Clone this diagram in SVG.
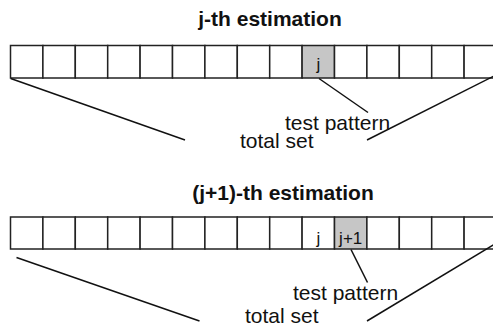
<svg xmlns="http://www.w3.org/2000/svg" width="493" height="330" viewBox="0 0 493 330">
<style>
.c{fill:#fff;stroke:#222;stroke-width:1.5}
.g{fill:#c6c6c6;stroke:#222;stroke-width:1.5}
.t{font-family:"Liberation Sans",Arial,sans-serif;font-size:21px;fill:#111}
.b{font-family:"Liberation Sans",Arial,sans-serif;font-size:21px;font-weight:bold;fill:#111}
.s{font-family:"Liberation Sans",Arial,sans-serif;font-size:17px;fill:#111;text-anchor:middle}
.l{fill:none;stroke:#111;stroke-width:1.5}
</style>
<rect width="493" height="330" fill="#fff"/>
<g id="title1"><text class="b" x="270" y="26" text-anchor="middle">j-th estimation</text></g>
<g id="row1">
<rect class="c" x="10.5" y="45.5" width="32.4" height="32.5"/>
<rect class="c" x="42.9" y="45.5" width="32.4" height="32.5"/>
<rect class="c" x="75.3" y="45.5" width="32.4" height="32.5"/>
<rect class="c" x="107.7" y="45.5" width="32.4" height="32.5"/>
<rect class="c" x="140.1" y="45.5" width="32.4" height="32.5"/>
<rect class="c" x="172.5" y="45.5" width="32.4" height="32.5"/>
<rect class="c" x="204.9" y="45.5" width="32.4" height="32.5"/>
<rect class="c" x="237.3" y="45.5" width="32.4" height="32.5"/>
<rect class="c" x="269.7" y="45.5" width="32.4" height="32.5"/>
<rect class="g" x="302.1" y="45.5" width="32.4" height="32.5"/>
<rect class="c" x="334.5" y="45.5" width="32.4" height="32.5"/>
<rect class="c" x="366.9" y="45.5" width="32.4" height="32.5"/>
<rect class="c" x="399.3" y="45.5" width="32.4" height="32.5"/>
<rect class="c" x="431.7" y="45.5" width="32.4" height="32.5"/>
<rect class="c" x="464.1" y="45.5" width="32.4" height="32.5"/>
<text class="s" x="318.3" y="70">j</text>
</g>
<g id="labels1">
<text class="t" x="285" y="129.5">test pattern</text>
<text class="t" x="240" y="147.5">total set</text>
</g>
<g id="title2"><text class="b" x="283" y="200" text-anchor="middle">(j+1)-th estimation</text></g>
<g id="row2">
<rect class="c" x="10.5" y="217" width="32.4" height="32"/>
<rect class="c" x="42.9" y="217" width="32.4" height="32"/>
<rect class="c" x="75.3" y="217" width="32.4" height="32"/>
<rect class="c" x="107.7" y="217" width="32.4" height="32"/>
<rect class="c" x="140.1" y="217" width="32.4" height="32"/>
<rect class="c" x="172.5" y="217" width="32.4" height="32"/>
<rect class="c" x="204.9" y="217" width="32.4" height="32"/>
<rect class="c" x="237.3" y="217" width="32.4" height="32"/>
<rect class="c" x="269.7" y="217" width="32.4" height="32"/>
<rect class="c" x="302.1" y="217" width="32.4" height="32"/>
<rect class="g" x="334.5" y="217" width="32.4" height="32"/>
<rect class="c" x="366.9" y="217" width="32.4" height="32"/>
<rect class="c" x="399.3" y="217" width="32.4" height="32"/>
<rect class="c" x="431.7" y="217" width="32.4" height="32"/>
<rect class="c" x="464.1" y="217" width="32.4" height="32"/>
<text class="s" x="318.3" y="244">j</text>
<text class="s" x="350.7" y="244">j+1</text>
</g>
<g id="labels2">
<text class="t" x="293" y="300">test pattern</text>
<text class="t" x="245" y="323">total set</text>
</g>
<g id="connectors">
<line class="l" x1="10.7" y1="78.5" x2="185" y2="140"/>
<line class="l" x1="494" y1="76" x2="367" y2="140"/>
<line class="l" x1="319" y1="78.5" x2="368" y2="112.5"/>
<line class="l" x1="16.5" y1="257.5" x2="199.5" y2="321"/>
<line class="l" x1="494" y1="244.5" x2="367" y2="321"/>
<line class="l" x1="351" y1="249.5" x2="367.5" y2="282.5"/>
</g>
</svg>
